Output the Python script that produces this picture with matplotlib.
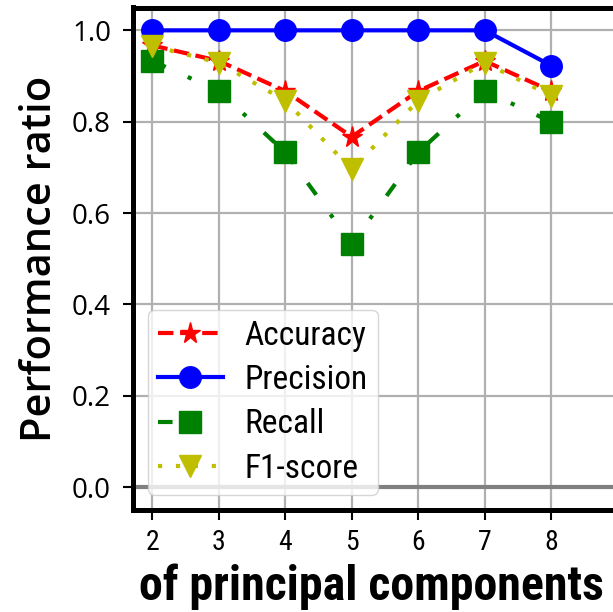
import matplotlib
matplotlib.use("Agg")
import matplotlib.pyplot as plt
from matplotlib import font_manager

# Data: classifier performance vs. number of principal components
n_components = [2, 3, 4, 5, 6, 7, 8]
accuracy = [0.967, 0.933, 0.867, 0.767, 0.867, 0.933, 0.867]
precision = [1.0, 1.0, 1.0, 1.0, 1.0, 1.0, 0.923]
recall = [0.933, 0.867, 0.733, 0.533, 0.733, 0.867, 0.800]
f1_score = [0.966, 0.929, 0.846, 0.696, 0.846, 0.929, 0.857]
y_ticks = [0.0, 0.2, 0.4, 0.6, 0.8, 1.0]

available = {f.name for f in font_manager.fontManager.ttflist}


def pick(*names):
    for n in names:
        if n in available:
            return n
    return "DejaVu Sans"


narrow = pick("Liberation Sans Narrow", "Roboto Condensed", "DejaVu Sans Condensed",
              "Liberation Sans")
wide = pick("Open Sans", "Noto Sans", "DejaVu Sans")

fig = plt.figure(figsize=(6.13, 6.12), dpi=100)
ax = fig.add_axes([132.5 / 613, 102.0 / 612, 505 / 613, 502.5 / 612])

lw = 3
ms = 15.5
ax.plot(n_components, accuracy, color="r", linestyle="--", lw=lw,
        marker="*", markersize=ms, label="Accuracy")
ax.plot(n_components, precision, color="b", linestyle="-", lw=lw,
        marker="o", markersize=ms, label="Precision")
ax.plot(n_components, recall, color="g", linestyle=(0, (3.5, 5.8, 1, 5.8)), lw=lw,
        marker="s", markersize=ms, label="Recall")
ax.plot(n_components, f1_score, color="y", linestyle=(0, (1, 3.3)), lw=lw,
        marker="v", markersize=ms, label="F1-score")

ax.axhline(0, color="gray", lw=3, zorder=1.5)
ax.grid(True, color="#b0b0b0", lw=1.6)
ax.set_axisbelow(True)

ax.set_xlim(1.7, 9.3)
ax.set_ylim(-0.05, 1.05)
ax.set_xticks(n_components)
ax.set_yticks(y_ticks)
ax.set_xticklabels([str(v) for v in n_components], fontsize=20, family=narrow)
ax.set_yticklabels([f"{v:.1f}" for v in y_ticks], fontsize=20, family=wide)
ax.tick_params(axis="both", length=7.5, width=1.5, color="black")
ax.tick_params(axis="x", pad=6)
ax.tick_params(axis="y", pad=8)

for side in ("left", "bottom", "top", "right"):
    ax.spines[side].set_linewidth(3.6)
    ax.spines[side].set_color("black")

ax.set_ylabel("Performance ratio", fontsize=30, family=wide, fontweight="semibold",
              labelpad=8)
ax.set_xlabel("of principal components", fontsize=34.5, family=narrow,
              fontweight="bold")
ax.xaxis.set_label_coords((371.5 - 132.5) / 505, -0.106)

ax.legend(loc="lower left", prop={"family": narrow, "size": 24},
          handlelength=1.95, handletextpad=0.65, labelspacing=0.37,
          borderaxespad=0.46, borderpad=0.3)

fig.savefig("out.png", dpi=100)
